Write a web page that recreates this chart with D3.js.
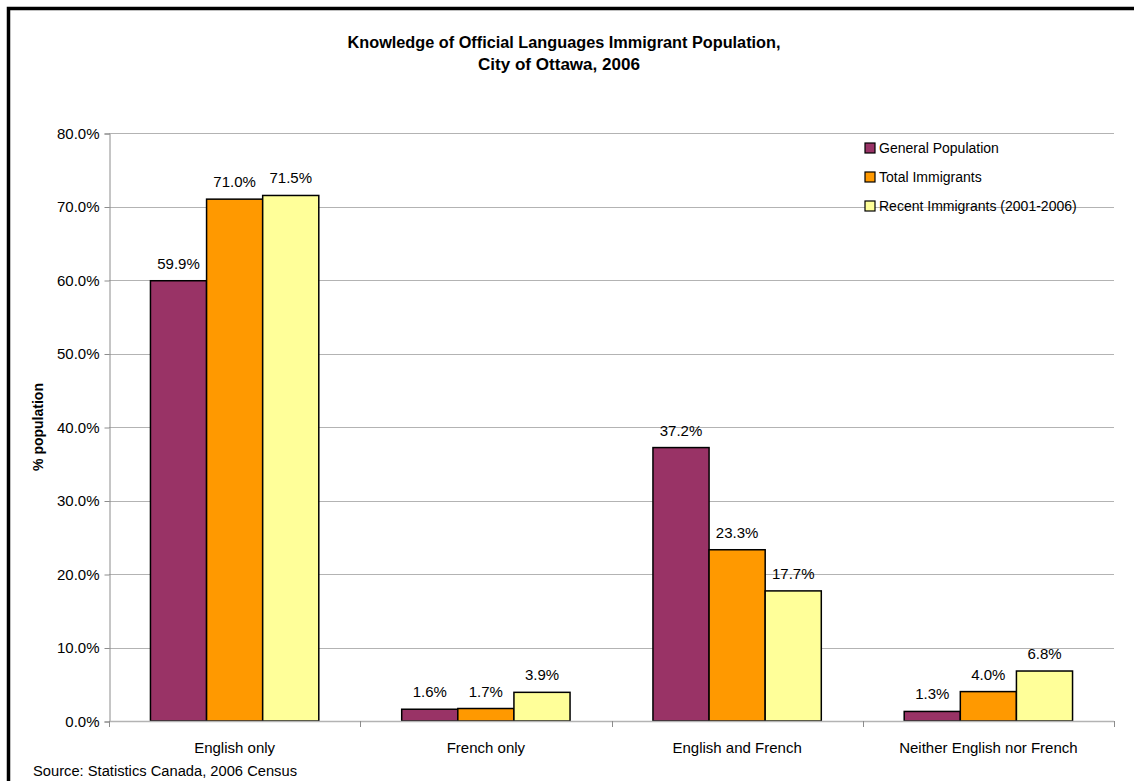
<!DOCTYPE html>
<html>
<head>
<meta charset="utf-8">
<script src="https://cdn.jsdelivr.net/npm/d3@7"></script>
<style>
  html, body { margin: 0; padding: 0; background: #fff; }
  svg { display: block; font-family: "Liberation Sans", Arial, sans-serif; }
</style>
</head>
<body>
<svg id="chart" width="1134" height="781"></svg>
<script>
// Knowledge of official languages, City of Ottawa, 2006 Census
const categories = ["English only", "French only", "English and French", "Neither English nor French"];
const seriesNames = ["General Population", "Total Immigrants", "Recent Immigrants (2001-2006)"];
const generalPopulation = [59.9, 1.6, 37.2, 1.3];
const totalImmigrants = [71.0, 1.7, 23.3, 4.0];
const recentImmigrants = [71.5, 3.9, 17.7, 6.8];
const yTicks = [0, 10, 20, 30, 40, 50, 60, 70, 80];
const seriesColors = ["#993366", "#FF9900", "#FFFF99"];

const seriesValues = [generalPopulation, totalImmigrants, recentImmigrants];

const svg = d3.select("#chart");
const W = 1134, H = 781;
const plot = { left: 109, right: 1114, top: 133, bottom: 721 };

// outer frame (only top and left edges fall inside the page)
svg.append("rect")
  .attr("x", 8.5).attr("y", 8.5)
  .attr("width", W + 20).attr("height", H + 20)
  .attr("fill", "#fff").attr("stroke", "#000").attr("stroke-width", 3.5);

const y = d3.scaleLinear().domain([0, 80]).range([plot.bottom, plot.top]);

const x0 = d3.scaleBand()
  .domain(categories)
  .range([plot.left, plot.right])
  .paddingInner(0.33)
  .paddingOuter(0.165);

const x1 = d3.scaleBand()
  .domain(seriesNames)
  .range([0, x0.bandwidth()]);

// horizontal gridlines
svg.append("g")
  .selectAll("line")
  .data(yTicks.filter(t => t > 0))
  .join("line")
  .attr("x1", plot.left).attr("x2", plot.right)
  .attr("y1", d => Math.round(y(d)) + 0.5).attr("y2", d => Math.round(y(d)) + 0.5)
  .attr("stroke", "#b3b3b3").attr("stroke-width", 1);

// y axis
const yAxis = d3.axisLeft(y)
  .tickValues(yTicks)
  .tickSize(5)
  .tickPadding(5)
  .tickFormat(d => d.toFixed(1) + "%");

const gy = svg.append("g")
  .attr("transform", `translate(${plot.left + 0.5},0.5)`)
  .call(yAxis);
gy.select(".domain").attr("stroke", "#8c8c8c");
gy.selectAll(".tick line").attr("stroke", "#8c8c8c");
gy.selectAll(".tick text")
  .attr("fill", "#000")
  .style("font-size", "15px")
  .style("font-family", "'Liberation Sans', Arial, sans-serif");

// bars
const groups = svg.append("g")
  .selectAll("g")
  .data(categories)
  .join("g")
  .attr("transform", d => `translate(${x0(d)},0)`);

groups.selectAll("rect")
  .data((c, ci) => seriesNames.map((s, si) => ({ s, si, v: seriesValues[si][ci] })))
  .join("rect")
  .attr("x", d => x1(d.s))
  .attr("y", d => y(d.v))
  .attr("width", x1.bandwidth())
  .attr("height", d => y(0) - y(d.v))
  .attr("fill", d => seriesColors[d.si])
  .attr("stroke", "#000")
  .attr("stroke-width", 1.5);

// value labels
groups.selectAll("text")
  .data((c, ci) => seriesNames.map((s, si) => ({ s, si, v: seriesValues[si][ci] })))
  .join("text")
  .attr("x", d => x1(d.s) + x1.bandwidth() / 2)
  .attr("y", d => y(d.v) - 12)
  .attr("text-anchor", "middle")
  .style("font-size", "15px")
  .attr("fill", "#000")
  .text(d => d.v.toFixed(1) + "%");

// x axis line and category boundary ticks
const xAxisG = svg.append("g");
xAxisG.append("line")
  .attr("x1", plot.left).attr("x2", plot.right)
  .attr("y1", plot.bottom + 0.5).attr("y2", plot.bottom + 0.5)
  .attr("stroke", "#b3b3b3").attr("stroke-width", 1.5);
const boundaries = categories.map(c => x0(c) - x0.step() * x0.paddingInner() / 2)
  .concat([plot.right]);
xAxisG.selectAll("line.tick")
  .data(boundaries)
  .join("line")
  .attr("class", "tick")
  .attr("x1", d => Math.round(d) + 0.5).attr("x2", d => Math.round(d) + 0.5)
  .attr("y1", plot.bottom).attr("y2", plot.bottom + 6)
  .attr("stroke", "#8c8c8c");
xAxisG.selectAll("text")
  .data(categories)
  .join("text")
  .attr("x", d => x0(d) + x0.bandwidth() / 2)
  .attr("y", 753)
  .attr("text-anchor", "middle")
  .style("font-size", "15px")
  .attr("fill", "#000")
  .text(d => d);

// y axis title
svg.append("text")
  .attr("transform", "translate(43,427) rotate(-90)")
  .attr("text-anchor", "middle")
  .style("font-size", "14px")
  .style("font-weight", "bold")
  .text("% population");

// chart title
svg.append("text")
  .attr("x", 564).attr("y", 48)
  .attr("text-anchor", "middle")
  .style("font-size", "16px")
  .style("font-weight", "bold")
  .attr("textLength", 433).attr("lengthAdjust", "spacingAndGlyphs")
  .text("Knowledge of Official Languages Immigrant Population,");
svg.append("text")
  .attr("x", 559).attr("y", 70)
  .attr("text-anchor", "middle")
  .style("font-size", "16px")
  .style("font-weight", "bold")
  .attr("textLength", 162).attr("lengthAdjust", "spacingAndGlyphs")
  .text("City of Ottawa, 2006");

// legend
const legend = svg.append("g").attr("transform", "translate(865,143)");
const rows = legend.selectAll("g")
  .data(seriesNames)
  .join("g")
  .attr("transform", (d, i) => `translate(0,${i * 29})`);
rows.append("rect")
  .attr("width", 10).attr("height", 10)
  .attr("fill", (d, i) => seriesColors[i])
  .attr("stroke", "#000").attr("stroke-width", 1.2);
rows.append("text")
  .attr("x", 14).attr("y", 10)
  .style("font-size", "14px")
  .text(d => d);

// source note
svg.append("text")
  .attr("x", 33).attr("y", 776)
  .style("font-size", "14px")
  .attr("textLength", 264).attr("lengthAdjust", "spacingAndGlyphs")
  .text("Source: Statistics Canada, 2006 Census");
</script>
</body>
</html>
